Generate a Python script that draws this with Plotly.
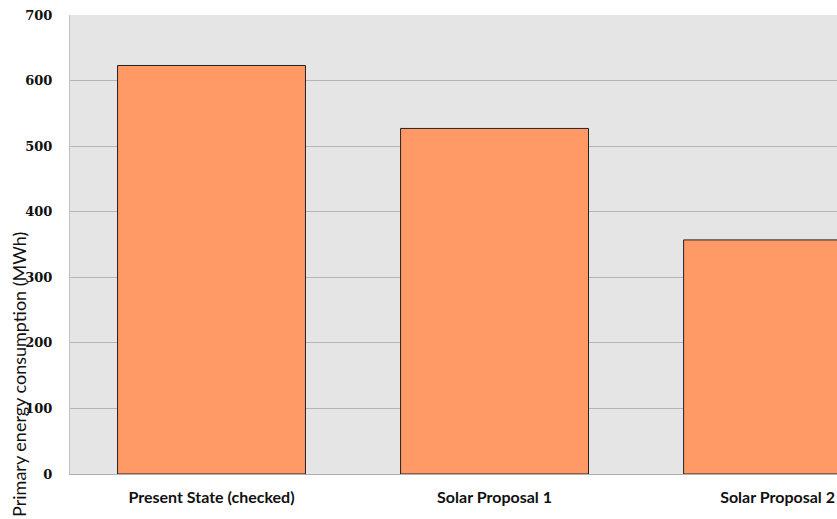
import plotly.graph_objects as go

# Primary energy consumption per scenario (MWh)
categories = ["Present State (checked)", "Solar Proposal 1", "Solar Proposal 2"]
consumption_mwh = [623, 527, 357]
y_ticks = [0, 100, 200, 300, 400, 500, 600, 700]

fig = go.Figure(
    go.Bar(
        x=categories,
        y=consumption_mwh,
        width=0.664,
        marker=dict(color="#FF9966", line=dict(color="#222222", width=1)),
    )
)

fig.update_layout(
    width=837,
    height=519,
    margin=dict(l=70, r=0, t=15, b=45),
    paper_bgcolor="white",
    plot_bgcolor="#E5E5E5",
    showlegend=False,
    font=dict(family="Lato", color="#111111"),
)

fig.update_xaxes(
    type="category",
    range=[-0.5, 2.21],
    showgrid=False,
    showline=True,
    linecolor="#B0B0B0",
    linewidth=1,
    ticks="",
    ticklabelstandoff=9,
    tickfont=dict(family="Lato", size=16, weight="bold", color="#111111"),
)

fig.update_yaxes(
    range=[0, 700],
    tickvals=y_ticks,
    showgrid=True,
    gridcolor="#B5B5B5",
    gridwidth=1,
    showline=True,
    linecolor="#C0C0C0",
    linewidth=1,
    zeroline=False,
    ticks="",
    ticklabelstandoff=14,
    tickfont=dict(family="DejaVu Serif", size=13, weight="bold", color="#111111"),
)

# Vertical axis title, placed low along the left edge
fig.add_annotation(
    text="Primary energy consumption (MWh)",
    xref="paper",
    yref="paper",
    x=-0.0665,
    y=0.218,
    textangle=-90,
    showarrow=False,
    xanchor="center",
    yanchor="middle",
    font=dict(family="Lato", size=18, color="#111111"),
)

fig.write_html("out.html")
